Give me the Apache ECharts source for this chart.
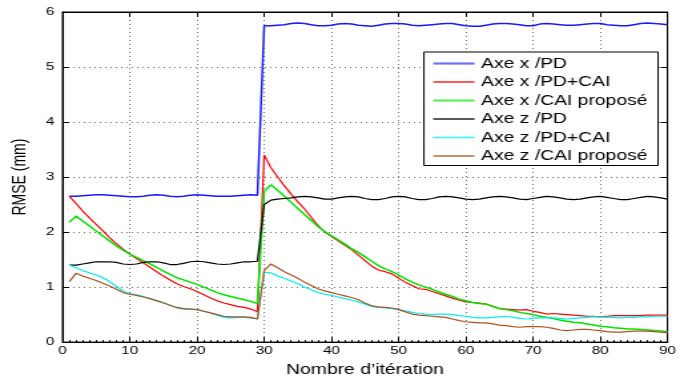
<!DOCTYPE html>
<html>
<head>
<meta charset="utf-8">
<script src="https://cdn.jsdelivr.net/npm/echarts@6/dist/echarts.min.js"></script>
<style>
html, body { margin: 0; padding: 0; background: #fff; overflow: hidden; }
#wrap { width: 680px; height: 382px; overflow: hidden; }
#chart { width: 511px; height: 382px; transform: scaleX(1.3307); transform-origin: 0 0; }
</style>
</head>
<body>
<div id="wrap"><div id="chart"></div></div>
<script>
// ---- data ----
const seriesNames = ['Axe x /PD', 'Axe x /PD+CAI', 'Axe x /CAI proposé', 'Axe z /PD', 'Axe z /PD+CAI', 'Axe z /CAI proposé'];
const xTicks = [0, 10, 20, 30, 40, 50, 60, 70, 80, 90];
const yTicks = [0, 1, 2, 3, 4, 5, 6];
const iterations = [];
for (let i = 1; i <= 90; i++) iterations.push(i);

const xPD = [2.65,2.65,2.66,2.67,2.68,2.68,2.67,2.66,2.65,2.64,2.64,2.65,2.67,2.68,2.67,2.65,2.64,2.65,2.67,2.68,2.67,2.66,2.65,2.65,2.65,2.66,2.67,2.68,2.67,
5.75,5.75,5.76,5.77,5.79,5.80,5.79,5.77,5.75,5.75,5.76,5.78,5.79,5.78,5.76,5.75,5.74,5.76,5.78,5.79,5.79,5.78,5.76,5.75,5.76,5.77,5.78,5.79,5.79,5.77,
5.75,5.74,5.74,5.76,5.78,5.79,5.79,5.78,5.77,5.75,5.75,5.78,5.79,5.78,5.77,5.76,5.76,5.77,5.78,5.79,5.79,5.77,5.76,5.75,5.75,5.77,5.79,5.80,5.79,5.78,5.77];

const xPDCAI = [2.65,2.52,2.38,2.26,2.14,2.02,1.90,1.79,1.69,1.60,1.52,1.44,1.36,1.28,1.20,1.13,1.06,1.01,0.97,0.92,0.86,0.80,0.75,0.71,0.68,0.65,0.63,0.60,0.55,
3.40,3.17,3.00,2.84,2.69,2.55,2.42,2.27,2.12,2.00,1.92,1.84,1.76,1.68,1.58,1.48,1.38,1.31,1.28,1.24,1.16,1.09,1.03,0.97,0.96,0.92,0.88,0.84,0.80,0.76,
0.73,0.72,0.71,0.69,0.65,0.61,0.60,0.59,0.58,0.59,0.56,0.54,0.51,0.52,0.51,0.50,0.49,0.48,0.47,0.47,0.46,0.47,0.48,0.48,0.48,0.48,0.48,0.49,0.49,0.49,0.49];

const xCAI = [2.18,2.29,2.20,2.11,2.02,1.93,1.84,1.75,1.67,1.60,1.54,1.48,1.42,1.36,1.29,1.23,1.17,1.13,1.09,1.05,1.00,0.95,0.90,0.86,0.83,0.80,0.77,0.74,0.70,
2.74,2.86,2.76,2.65,2.54,2.43,2.32,2.21,2.10,2.01,1.93,1.86,1.78,1.70,1.63,1.55,1.47,1.39,1.33,1.28,1.22,1.15,1.09,1.04,1.00,0.96,0.91,0.87,0.83,0.78,
0.75,0.72,0.70,0.69,0.65,0.61,0.59,0.57,0.54,0.52,0.50,0.47,0.45,0.43,0.40,0.38,0.36,0.35,0.33,0.31,0.29,0.28,0.26,0.25,0.24,0.24,0.23,0.22,0.21,0.20,0.19];

const zPD = [1.40,1.40,1.42,1.44,1.46,1.46,1.46,1.45,1.42,1.41,1.42,1.45,1.46,1.46,1.44,1.41,1.41,1.43,1.46,1.47,1.46,1.44,1.42,1.41,1.42,1.44,1.46,1.46,1.47,
2.50,2.58,2.60,2.61,2.62,2.64,2.65,2.64,2.62,2.60,2.60,2.62,2.64,2.65,2.64,2.61,2.59,2.59,2.61,2.64,2.65,2.64,2.61,2.59,2.59,2.61,2.64,2.65,2.64,2.62,
2.60,2.59,2.60,2.62,2.64,2.65,2.64,2.62,2.60,2.59,2.61,2.63,2.65,2.64,2.62,2.60,2.59,2.60,2.62,2.64,2.65,2.63,2.61,2.59,2.59,2.61,2.63,2.65,2.64,2.62,2.60];

const zPDCAI = [1.40,1.35,1.30,1.26,1.22,1.17,1.10,1.01,0.93,0.88,0.86,0.83,0.79,0.76,0.72,0.67,0.62,0.60,0.60,0.59,0.56,0.53,0.49,0.45,0.44,0.45,0.45,0.44,0.42,
1.27,1.26,1.20,1.16,1.11,1.06,1.00,0.95,0.90,0.87,0.85,0.82,0.79,0.76,0.73,0.69,0.65,0.63,0.62,0.61,0.59,0.57,0.54,0.52,0.51,0.50,0.51,0.51,0.50,0.48,
0.47,0.45,0.44,0.44,0.45,0.46,0.47,0.45,0.43,0.42,0.43,0.44,0.44,0.44,0.43,0.42,0.43,0.44,0.45,0.46,0.46,0.45,0.45,0.44,0.45,0.45,0.46,0.46,0.47,0.47,0.47];

const zCAI = [1.10,1.25,1.20,1.16,1.12,1.07,1.02,0.96,0.90,0.87,0.85,0.82,0.79,0.75,0.71,0.67,0.63,0.61,0.60,0.59,0.56,0.53,0.50,0.47,0.46,0.46,0.46,0.45,0.42,
1.30,1.42,1.35,1.28,1.22,1.16,1.09,1.03,0.97,0.93,0.90,0.87,0.84,0.81,0.77,0.71,0.66,0.64,0.63,0.62,0.59,0.55,0.51,0.49,0.48,0.47,0.46,0.45,0.42,0.39,
0.37,0.36,0.35,0.35,0.33,0.31,0.30,0.28,0.27,0.28,0.28,0.28,0.27,0.25,0.22,0.21,0.22,0.23,0.23,0.22,0.21,0.19,0.18,0.18,0.19,0.20,0.20,0.20,0.19,0.18,0.17];

const allValues = [xPD, xPDCAI, xCAI, zPD, zPDCAI, zCAI];
const colors = ['#1a1aff', '#ff0000', '#00e400', '#000000', '#00f0f0', '#b0521f'];
const legendColors = ['#6e6eff', '#ff0000', '#5cf05c', '#000000', '#40f4f4', '#b0521f'];
const widths = [1.5, 1.2, 1.5, 1.2, 1.2, 1.2];
const legendIcons = ['path://M0 0H31V2.2H0Z', 'path://M0 0H31V1.3H0Z', 'path://M0 0H31V2.2H0Z', 'path://M0 0H31V1.3H0Z', 'path://M0 0H31V1.6H0Z', 'path://M0 0H31V1.3H0Z'];

// ---- chart ----
const FONT = 'Liberation Sans, Arial, Helvetica, sans-serif';
const chart = echarts.init(document.getElementById('chart'), null, { renderer: 'canvas' });

const series = allValues.map((vals, k) => ({
  name: seriesNames[k],
  type: 'line',
  xAxisIndex: 0,
  yAxisIndex: 0,
  symbol: 'none',
  showSymbol: false,
  smooth: false,
  lineStyle: { color: colors[k], width: widths[k] },
  itemStyle: { color: colors[k] },
  data: iterations.map((it, i) => [it, vals[i]]),
  z: 3
}));

const gridLine = { show: true, lineStyle: { color: '#707070', width: 1, type: [1, 3] } };

chart.setOption({
  animation: false,
  backgroundColor: '#ffffff',
  grid: { left: 39.5, right: 5.6, top: 12, bottom: 36, show: true, borderColor: '#000', borderWidth: 1, backgroundColor: 'transparent' },
  legend: {
    orient: 'vertical',
    left: 318.6,
    top: 52,
    itemWidth: 31,
    itemHeight: 14,
    itemGap: 3.5,
    padding: [4, 8, 2, 7],
    backgroundColor: '#fff',
    borderColor: '#000',
    borderWidth: 1,
    borderRadius: 0,
    symbolKeepAspect: true,
    data: seriesNames.map((n, k) => ({ name: n, icon: legendIcons[k], itemStyle: { color: legendColors[k] } })),
    textStyle: { color: '#000', fontSize: 14.5, fontFamily: FONT, padding: [0, 0, 0, 0] }
  },
  xAxis: [
    {
      type: 'value', min: xTicks[0], max: xTicks[xTicks.length - 1], interval: 10,
      position: 'bottom',
      name: 'Nombre d\u2019itération', nameLocation: 'middle', nameGap: 13,
      nameTextStyle: { color: '#000', fontSize: 14.5, fontFamily: FONT },
      axisLine: { show: true, onZero: false, lineStyle: { color: '#000', width: 1 } },
      axisTick: { show: true, inside: true, length: 5, lineStyle: { color: '#000' } },
      minorTick: { show: true, splitNumber: 10, length: 2, lineStyle: { color: '#000' } },
      axisLabel: { color: '#000', fontSize: 11.5, fontFamily: FONT, margin: 3 },
      splitLine: gridLine
    },
    {
      type: 'value', min: xTicks[0], max: xTicks[xTicks.length - 1], interval: 10,
      position: 'top',
      axisLine: { show: true, onZero: false, lineStyle: { color: '#000', width: 1 } },
      axisTick: { show: true, inside: true, length: 5, lineStyle: { color: '#000' } },
      axisLabel: { show: false },
      splitLine: { show: false }
    }
  ],
  yAxis: [
    {
      type: 'value', min: yTicks[0], max: yTicks[yTicks.length - 1], interval: 1,
      position: 'left',
      name: 'RMSE (mm)', nameLocation: 'middle', nameGap: 25,
      nameTextStyle: { color: '#000', fontSize: 14, fontFamily: FONT },
      axisLine: { show: true, onZero: false, lineStyle: { color: '#000', width: 1 } },
      axisTick: { show: true, inside: true, length: 5, lineStyle: { color: '#000' } },
      axisLabel: { color: '#000', fontSize: 11.5, fontFamily: FONT, margin: 6 },
      splitLine: gridLine
    },
    {
      type: 'value', min: yTicks[0], max: yTicks[yTicks.length - 1], interval: 1,
      position: 'right',
      axisLine: { show: true, onZero: false, lineStyle: { color: '#000', width: 1 } },
      axisTick: { show: true, inside: true, length: 5, lineStyle: { color: '#000' } },
      axisLabel: { show: false },
      splitLine: { show: false }
    }
  ],
  series: series
});
</script>
</body>
</html>
